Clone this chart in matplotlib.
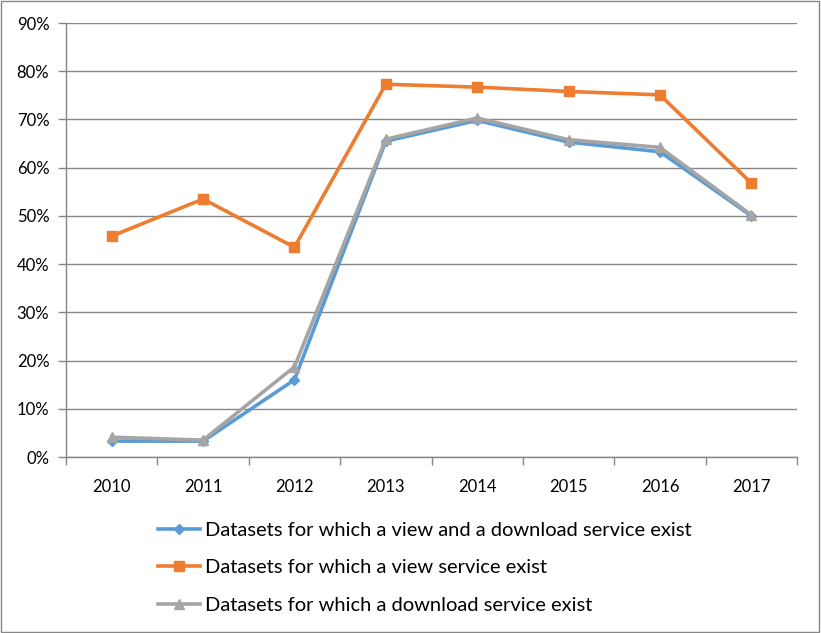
import matplotlib
matplotlib.use("Agg")
import matplotlib.pyplot as plt
from matplotlib.patches import Rectangle
from matplotlib.ticker import FuncFormatter, MultipleLocator

years = ["2010", "2011", "2012", "2013", "2014", "2015", "2016", "2017"]
view_and_download = [3.3, 3.3, 16.0, 65.5, 69.8, 65.3, 63.3, 50.0]
view_only = [45.8, 53.5, 43.5, 77.3, 76.7, 75.8, 75.1, 56.8]
download_only = [4.1, 3.5, 18.7, 65.9, 70.3, 65.8, 64.2, 50.2]

labels = [
    "Datasets for which a view and a download service exist",
    "Datasets for which a view service exist",
    "Datasets for which a download service exist",
]
colors = ["#5B9BD5", "#ED7D31", "#A5A5A5"]
grid_color = "#868686"

plt.rcParams["font.family"] = ["Lato", "DejaVu Sans"]

fig = plt.figure(figsize=(8.21, 6.33), dpi=100)
ax = fig.add_axes([66 / 821, 1 - 457 / 633, (797 - 66) / 821, (457 - 23) / 633])

x = list(range(len(years)))
ax.plot(x, view_and_download, color=colors[0], lw=2.6, marker="D", ms=5.5,
        label=labels[0], zorder=3)
ax.plot(x, view_only, color=colors[1], lw=2.6, marker="s", ms=7,
        label=labels[1], zorder=3)
ax.plot(x, download_only, color=colors[2], lw=2.6, marker="^", ms=7.5,
        label=labels[2], zorder=4)

ax.set_xlim(-0.5, len(years) - 0.5)
ax.set_ylim(0, 90)
ax.yaxis.set_major_locator(MultipleLocator(10))
ax.yaxis.set_major_formatter(FuncFormatter(lambda v, _: f"{int(v)}%"))
ax.grid(axis="y", color=grid_color, lw=1)
ax.set_axisbelow(True)

# category labels centred, tick marks on the boundaries
ax.set_xticks(x)
ax.set_xticklabels(years)
ax.set_xticks([i - 0.5 for i in range(len(years) + 1)], minor=True)
ax.tick_params(axis="x", which="major", length=0, pad=16, labelsize=12)
ax.tick_params(axis="x", which="minor", length=6, color=grid_color, width=1)
ax.tick_params(axis="y", length=6, color=grid_color, width=1, labelsize=12, pad=6)

for side in ["top", "right"]:
    ax.spines[side].set_visible(False)
for side in ["left", "bottom"]:
    ax.spines[side].set_color(grid_color)
    ax.spines[side].set_linewidth(1)

fig.legend(loc="upper left", bbox_to_anchor=(140 / 821, 1 - 504 / 633),
           frameon=False, fontsize=14.5, handlelength=2.1, handletextpad=0.25,
           labelspacing=1.0)

fig.patches.append(Rectangle((0.001, 0.001), 0.997, 0.997, transform=fig.transFigure,
                             fill=False, edgecolor=grid_color, lw=1))

fig.savefig("out.png", dpi=100)
